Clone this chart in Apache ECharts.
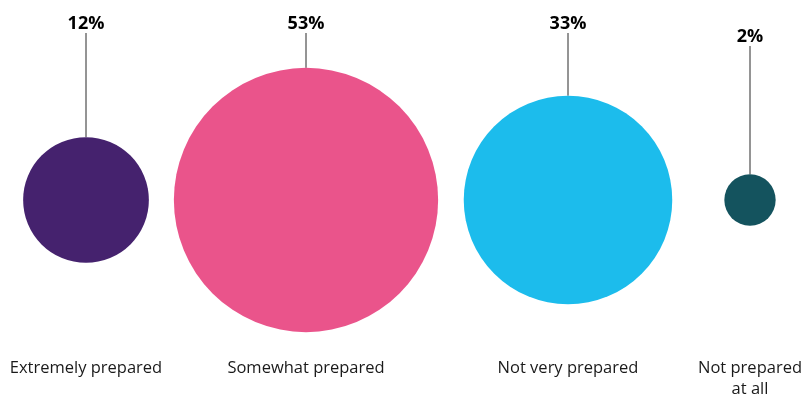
<!DOCTYPE html>
<html>
<head>
<meta charset="utf-8">
<script src="https://cdn.jsdelivr.net/npm/echarts@6/dist/echarts.min.js"></script>
<style>
  html, body { margin: 0; padding: 0; background: #fff; }
  #chart { width: 804px; height: 395px; }
</style>
</head>
<body>
<div id="chart"></div>
<script>
const categories = ['Extremely prepared', 'Somewhat prepared', 'Not very prepared', 'Not prepared\nat all'];
const shares = [12, 53, 33, 2];
const colors = ['#45226e', '#ea548b', '#1cbcec', '#14535e'];

// horizontal placement of each bubble (px), and where the % label sits
const centersX = [86, 306, 568, 750];
const pctLabelY = [21, 21, 21, 34];

const chart = echarts.init(document.getElementById('chart'));

const bubbles = shares.map((v, i) => ({
  name: categories[i],
  value: [centersX[i], 0, v],
  itemStyle: { color: colors[i], opacity: 1 }
}));

const option = {
  animation: false,
  grid: { left: 0, right: 0, top: 5, bottom: 0 },
  xAxis: { type: 'value', min: 0, max: 804, show: false },
  yAxis: { type: 'value', min: -1, max: 1, show: false },
  series: [
    {
      type: 'scatter',
      data: bubbles,
      symbolSize: (val) => 36.3 * Math.sqrt(val[2]),
      itemStyle: { opacity: 1 },
      label: {
        show: true,
        formatter: (p) => p.value[2] + '%',
        fontFamily: 'Open Sans',
        fontWeight: 'bold',
        fontSize: 18,
        color: '#000',
        align: 'center',
        verticalAlign: 'middle',
        padding: [0, 0, 6, 0]
      },
      labelLayout: (p) => ({ x: centersX[p.dataIndex], y: pctLabelY[p.dataIndex] + 3 }),
      labelLine: { show: true, lineStyle: { color: '#2a2a2a', width: 1, opacity: 1 } }
    },
    {
      type: 'scatter',
      data: bubbles,
      symbolSize: 0,
      silent: true,
      itemStyle: { opacity: 1 },
      label: {
        show: true,
        formatter: (p) => p.name,
        fontFamily: 'Open Sans',
        fontSize: 16.5,
        color: '#1a1a1a',
        lineHeight: 21,
        align: 'center',
        verticalAlign: 'top'
      },
      labelLayout: (p) => ({ x: centersX[p.dataIndex], y: 358 })
    }
  ]
};

chart.setOption(option);
</script>
</body>
</html>
